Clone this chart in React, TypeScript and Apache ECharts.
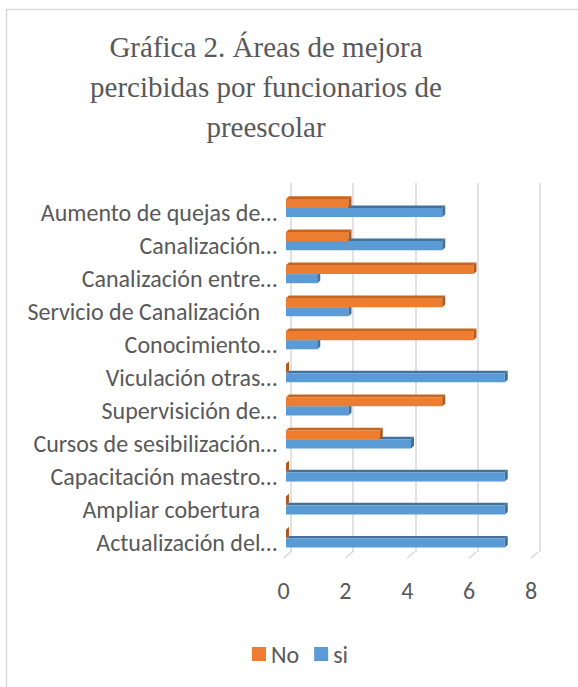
import React, { useEffect, useRef } from "react";
import * as echarts from "echarts";

const categories = [
  "Aumento de quejas de…",
  "Canalización…",
  "Canalización entre…",
  "Servicio de Canalización ",
  "Conocimiento…",
  "Viculación otras…",
  "Supervisición de…",
  "Cursos de sesibilización…",
  "Capacitación maestro…",
  "Ampliar cobertura ",
  "Actualización del…",
];
const noValues = [2, 2, 6, 5, 6, 0, 5, 3, 0, 0, 0];
const siValues = [5, 5, 1, 2, 1, 7, 2, 4, 7, 7, 7];
const xTicks = [0, 2, 4, 6, 8];
const titleText = "Gráfica 2. Áreas de mejora\npercibidas por funcionarios de\npreescolar";

const UI_FONT = "Carlito, Lato, sans-serif";
const TEXT = "#595959";
const GRID = "#d9d9d9";

function bar3d(isNo: boolean, front: string, top: string, side: string) {
  return (params: any, api: any) => {
    const idx = api.value(0);
    const v = api.value(1);
    const p0 = api.coord([0, idx]);
    const p1 = api.coord([v, idx]);
    const band = api.size([0, 1])[1];
    const h = band * 0.275;
    const c = p0[1];
    const y = isNo ? c - h : c;
    const x0 = p0[0];
    const x1 = p1[0];
    const dx = 3;
    const dy = -2.6;
    return {
      type: "group",
      children: [
        {
          type: "polygon",
          shape: { points: [[x0, y], [x1, y], [x1 + dx, y + dy], [x0 + dx, y + dy]] },
          style: { fill: top },
        },
        {
          type: "rect",
          shape: { x: x0, y: y, width: Math.max(0, x1 - x0), height: h },
          style: { fill: front },
        },
        {
          type: "polygon",
          shape: { points: [[x1, y], [x1 + dx, y + dy], [x1 + dx, y + h + dy], [x1, y + h]] },
          style: { fill: side },
        },
      ],
    };
  };
}

export default function App() {
  const ref = useRef<HTMLDivElement>(null);
  useEffect(() => {
    if (!ref.current) return;
    const chart = echarts.init(ref.current, null, { renderer: "svg" });
    const option: any = {
      animation: false,
      backgroundColor: "#ffffff",
      title: {
        text: titleText,
        left: 261,
        textAlign: "center",
        top: 22,
        textStyle: {
          fontFamily: "Liberation Serif, Times New Roman, serif",
          fontSize: 29,
          fontWeight: "normal",
          color: TEXT,
          lineHeight: 40,
        },
      },
      graphic: [
        {
          type: "rect",
          z: -10,
          shape: { x: 6.5, y: 9.5, width: 700, height: 700 },
          style: { fill: "transparent", stroke: GRID, lineWidth: 1.5 },
        },
      ],
      legend: {
        data: ["No", "si"],
        top: 642,
        left: 252,
        padding: 0,
        icon: "rect",
        itemWidth: 14,
        itemHeight: 14,
        itemGap: 15,
        textStyle: { fontFamily: UI_FONT, fontSize: 24, color: TEXT },
      },
      grid: [
        { left: 286, width: 250, top: 191.5, height: 363.5 },
        { left: 290.7, width: 249.3, top: 183, height: 369 },
        { left: 283.5, width: 247.5, top: 183, height: 375.3 },
      ],
      xAxis: [
        { gridIndex: 0, type: "value", min: 0, max: 8, interval: 2, show: false },
        {
          gridIndex: 1,
          type: "value",
          min: 0,
          max: 8,
          interval: 2,
          axisLine: { show: false },
          axisTick: { show: false },
          axisLabel: { show: false },
          splitLine: { show: true, lineStyle: { color: GRID, width: 1.5 } },
        },
        {
          gridIndex: 2,
          type: "value",
          min: 0,
          max: 8,
          interval: 2,
          axisLine: { show: false },
          axisTick: { show: false },
          splitLine: { show: false },
          axisLabel: { fontFamily: UI_FONT, fontSize: 24, color: TEXT, margin: 20 },
        },
      ],
      yAxis: [
        {
          gridIndex: 0,
          type: "category",
          data: categories,
          inverse: true,
          axisLine: { show: false },
          axisTick: { show: false },
          splitLine: { show: false },
          axisLabel: {
            fontFamily: UI_FONT,
            fontSize: 24,
            color: TEXT,
            margin: 9,
            padding: [9, 0, 0, 0],
            formatter: (v: string) => (v.endsWith(" ") ? "{s|" + v.trim() + "}" : v),
            rich: {
              s: { fontFamily: UI_FONT, fontSize: 24, color: TEXT, padding: [0, 17, 0, 0] },
            },
          },
        },
        { gridIndex: 1, type: "value", min: 0, max: 1, show: false },
        { gridIndex: 2, type: "value", min: 0, max: 1, show: false },
      ],
      series: [
        {
          name: "si",
          type: "custom",
          xAxisIndex: 0,
          yAxisIndex: 0,
          z: 2,
          itemStyle: { color: "#5B9BD5" },
          renderItem: bar3d(false, "#5B9BD5", "#41719C", "#41719C"),
          data: siValues.map((v, i) => [i, v]),
          encode: { x: 1, y: 0 },
        },
        {
          name: "No",
          type: "custom",
          xAxisIndex: 0,
          yAxisIndex: 0,
          z: 3,
          itemStyle: { color: "#ED7D31" },
          renderItem: bar3d(true, "#ED7D31", "#C4661F", "#AE5A21"),
          data: noValues.map((v, i) => [i, v]),
          encode: { x: 1, y: 0 },
        },
        {
          name: "floor",
          type: "custom",
          xAxisIndex: 2,
          yAxisIndex: 2,
          z: 1,
          silent: true,
          renderItem: (params: any, api: any) => {
            const p = api.coord([api.value(0), 0]);
            return {
              type: "line",
              shape: { x1: p[0], y1: p[1], x2: p[0] + 7.2, y2: p[1] - 6.6 },
              style: { stroke: GRID, lineWidth: 1.5 },
            };
          },
          data: xTicks.map((t) => [t]),
          encode: { x: 0 },
        },
      ],
    };
    chart.setOption(option);
    return () => chart.dispose();
  }, []);
  return (
    <div
      ref={ref}
      style={{ position: "absolute", left: 0, top: 0, width: 578, height: 687, background: "#fff" }}
    />
  );
}
